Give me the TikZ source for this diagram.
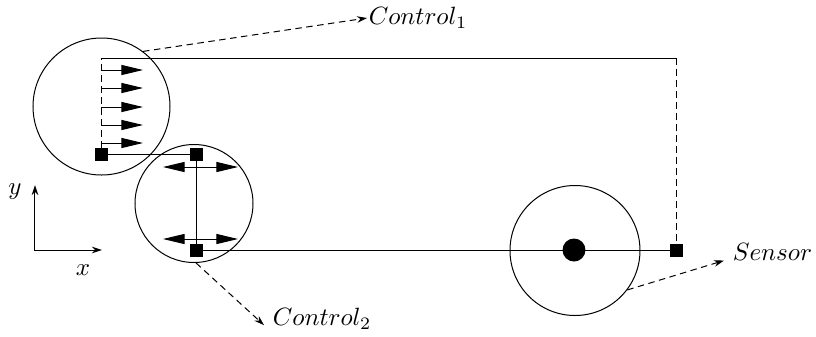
\documentclass[tikz,border=0pt]{standalone}
\usepackage{amsmath,amssymb}
\usepackage{tikz}
\usetikzlibrary{arrows.meta}
\tikzset{tri/.tip={Triangle[length=8.6pt,width=4pt]},
  sml/.tip={Stealth[length=4pt,width=2.6pt]}}

\begin{document}
\begin{tikzpicture}[x=0.4pt, y=-0.4pt, >=Stealth,
  blk/.style={draw, fill=black, inner sep=0pt, minimum size=4.8pt},
  wheel/.style={draw, circle, inner sep=0pt},
  dsh/.style={dash pattern=on 2.6pt off 1.8pt},
  big/.style={-tri}, dbl/.style={tri-tri}]
  \useasboundingbox (0,0) rectangle (816,336);
  % robots
  \node[wheel, minimum size=54.8pt] (c1) at (101.5,106.5) {};
  \node[wheel, minimum size=47.2pt] (c2) at (194,203.5) {};
  \node[wheel, minimum size=52pt] (c3) at (575,250.5) {};
  \node[circle, fill=black, inner sep=0pt, minimum size=9.2pt] (dot) at (574,250) {};
  \node[blk] (s1) at (101.5,154) {};
  \node[blk] (s2) at (197,154) {};
  \node[blk] (s3) at (197,250) {};
  \node[blk] (s4) at (677,250) {};
  \coordinate (tl) at (101.5,58);
  \coordinate (tr) at (677,58);
  % links
  \draw[dsh] (s1.north) -- (tl);
  \draw (tl) -- (tr);
  \draw[dsh] (tr) -- (s4.north);
  \draw (s1.east) -- (s2.west);
  \draw (s2.south) -- (s3.north);
  \draw (s3.east) -- (s4.west);
  % forces
  \foreach \yy [count=\i] in {70,88,107,125,143} {
    \coordinate (a\i) at (101.5,\yy);
    \coordinate (b\i) at (143,\yy);
    \draw[big] (a\i) -- (b\i);
  }
  \coordinate (l1) at (163,167); \coordinate (r1) at (238,167);
  \coordinate (l2) at (163,239); \coordinate (r2) at (238,239);
  \draw[dbl] (l1) -- (r1);
  \draw[dbl] (l2) -- (r2);
  % labels
  \node[anchor=west, inner sep=0.5pt] (ctrl1) at (367,18) {$Control_1$};
  \node[anchor=west] (ctrl2) at (264,319) {$Control_2$};
  \node[anchor=west] (sensor) at (724,252) {$Sensor$};
  \draw[dsh, -sml] (c1.53) -- (ctrl1.west);
  \draw[dsh, -sml] (c2.-88) -- (ctrl2.186);
  \draw[dsh, -sml] (c3.-37) -- (sensor.190);
  % axes
  \coordinate (o) at (35,250);
  \coordinate (ya) at (35,185);
  \coordinate (xa) at (102,250);
  \draw[sml-sml] (ya) -- (o) -- (xa);
  \node (ylab) at (15,192) {$y$};
  \node (xlab) at (83,270) {$x$};
\end{tikzpicture}
\end{document}
